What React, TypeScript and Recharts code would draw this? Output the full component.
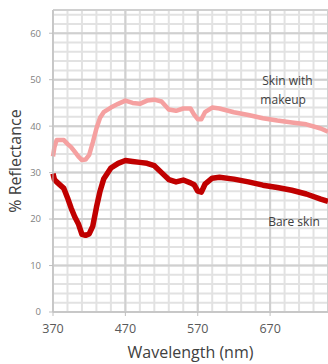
import { LineChart, Line, XAxis, YAxis, CartesianGrid, ReferenceDot } from "recharts";

// wavelength samples (nm) and reflectance
const wavelengths = [
  370, 372, 375, 380, 385, 390, 395, 400, 405, 410, 415, 420, 425, 430, 435, 440, 450, 460, 470, 480,
  490, 500, 510, 520, 530, 540, 550, 560, 565, 570, 575, 580, 590, 600, 620, 640, 660, 680, 700, 720,
  740, 750,
];
const bareSkin = [
  29.8, 28.5, 28.0, 27.3, 26.6, 24.6, 22.4, 20.5, 19.0, 16.7, 16.5, 16.8, 18.5, 22.5, 26.0, 28.6, 31.0,
  32.0, 32.6, 32.4, 32.2, 32.0, 31.5, 30.0, 28.5, 28.0, 28.4, 27.8, 27.4, 26.0, 25.8, 27.5, 28.8, 29.0,
  28.6, 28.0, 27.3, 26.8, 26.2, 25.4, 24.3, 23.8,
];
const withMakeup = [
  33.5, 35.5, 37.0, 37.0, 37.0, 36.2, 35.5, 34.5, 33.5, 32.7, 32.8, 33.8, 36.5, 39.5, 41.8, 43.0, 44.0,
  44.8, 45.5, 45.0, 44.8, 45.5, 45.7, 45.3, 43.6, 43.3, 43.8, 43.8, 42.5, 41.5, 41.5, 43.0, 44.0, 43.8,
  43.0, 42.4, 41.7, 41.2, 40.8, 40.4, 39.5, 38.8,
];

const xTicks = [370, 470, 570, 670];
const yTicks = [0, 10, 20, 30, 40, 50, 60];
const xMinorTicks = [370, 390, 410, 430, 450, 470, 490, 510, 530, 550, 570, 590, 610, 630, 650, 670, 690, 710, 730, 750];
const yMinorTicks = [0, 2, 4, 6, 8, 10, 12, 14, 16, 18, 20, 22, 24, 26, 28, 30, 32, 34, 36, 38, 40, 42, 44, 46, 48, 50, 52, 54, 56, 58, 60, 62, 64];

const X_DOMAIN = [370, 750];
const Y_DOMAIN = [0, 65];

const data = wavelengths.map((nm, i) => ({ nm, bare: bareSkin[i], makeup: withMakeup[i] }));

const FONT = "'Open Sans', sans-serif";

// minor grid positions come from the axis scale when available
const minorX = ({ xAxis, offset }: any) =>
  xMinorTicks.map((t) =>
    xAxis && typeof xAxis.scale === "function"
      ? xAxis.scale(t)
      : offset.left + ((t - X_DOMAIN[0]) / (X_DOMAIN[1] - X_DOMAIN[0])) * offset.width
  );
const minorY = ({ yAxis, offset }: any) =>
  yMinorTicks.map((t) =>
    yAxis && typeof yAxis.scale === "function"
      ? yAxis.scale(t)
      : offset.top + (1 - (t - Y_DOMAIN[0]) / (Y_DOMAIN[1] - Y_DOMAIN[0])) * offset.height
  );

const YTitle = ({ viewBox }: any) => {
  const cy = viewBox.y + viewBox.height / 2;
  return (
    <text
      x={15}
      y={cy}
      transform={`rotate(-90 15 ${cy})`}
      textAnchor="middle"
      dominantBaseline="central"
      fontSize={16}
      fill="#404040"
      fontFamily={FONT}
    >
      % Reflectance
    </text>
  );
};

const note = (value: string) => ({
  value,
  position: "center" as const,
  fontSize: 12,
  fill: "#404040",
  fontFamily: FONT,
});

export default function App() {
  return (
    <div style={{ position: "absolute", left: 0, top: 0, background: "#fff" }}>
      <LineChart width={328} height={364} data={data} margin={{ top: 10, right: 0, left: 0, bottom: 0 }}>
        <CartesianGrid
          stroke="#e2e2e2"
          strokeWidth={2}
          verticalCoordinatesGenerator={minorX}
          horizontalCoordinatesGenerator={minorY}
        />
        <CartesianGrid stroke="#d0d0d0" strokeWidth={2} />
        <XAxis
          type="number"
          dataKey="nm"
          domain={X_DOMAIN}
          ticks={xTicks}
          height={52}
          tickSize={4}
          tickMargin={8}
          stroke="#bfbfbf"
          tick={{ fontSize: 12.5, fill: "#595959", fontFamily: FONT }}
          label={{ value: "Wavelength (nm)", position: "insideBottom", offset: 6, fontSize: 16, fill: "#404040", fontFamily: FONT }}
        />
        <YAxis
          type="number"
          domain={Y_DOMAIN}
          ticks={yTicks}
          width={53}
          tickSize={4}
          tickMargin={8}
          stroke="#bfbfbf"
          tick={{ fontSize: 9.5, fill: "#7f7f7f", fontFamily: FONT }}
          label={<YTitle />}
        />
        <Line
          type="linear"
          dataKey="makeup"
          stroke="#f5a0a0"
          strokeWidth={4.5}
          dot={false}
          strokeLinejoin="round"
          isAnimationActive={false}
        />
        <Line
          type="linear"
          dataKey="bare"
          stroke="#c00000"
          strokeWidth={5.5}
          dot={false}
          strokeLinejoin="round"
          isAnimationActive={false}
        />
        <ReferenceDot x={694} y={49.7} r={0} stroke="none" fill="none" label={note("Skin with")} />
        <ReferenceDot x={688} y={45.6} r={0} stroke="none" fill="none" label={note("makeup")} />
        <ReferenceDot x={703} y={19.4} r={0} stroke="none" fill="none" label={note("Bare skin")} />
      </LineChart>
    </div>
  );
}
